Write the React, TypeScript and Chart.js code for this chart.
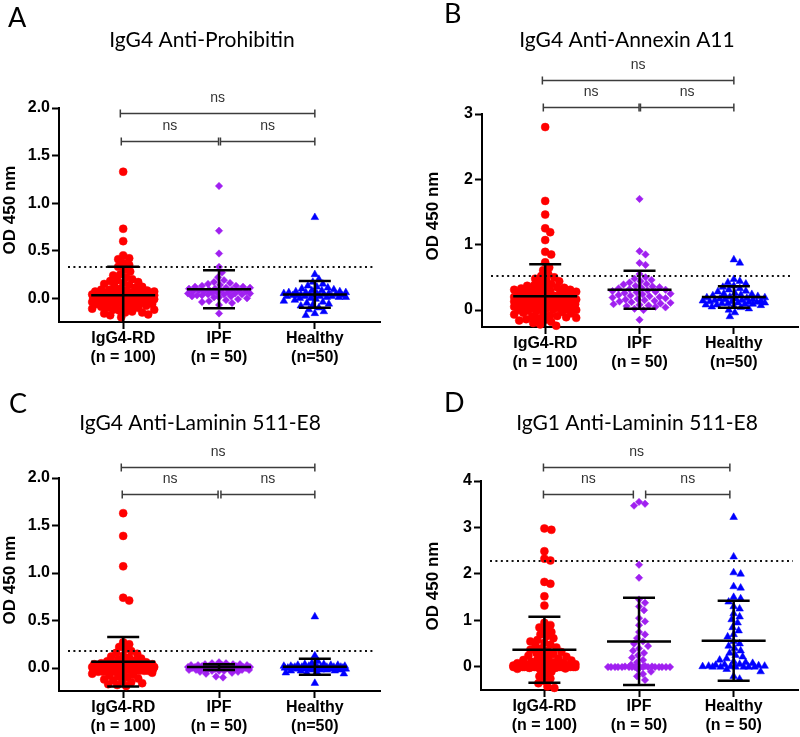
import React, { useEffect, useRef } from 'react';
import { Chart, registerables } from 'chart.js';

Chart.register(...registerables);

// ---------- categories / labels ----------
const groupNames = ['IgG4-RD', 'IPF', 'Healthy'];
const nLabelsABC = ['(n = 100)', '(n = 50)', '(n=50)'];
const nLabelsD = ['(n = 100)', '(n = 50)', '(n = 50)'];
const categoryPositions = [1, 2, 3];

// ---------- Panel A: IgG4 Anti-Prohibitin ----------
const prohibitinIgG4RD = [
  1.33, 0.73, 0.6, 0.45, 0.42, 0.41, 0.37, 0.35, 0.33, 0.3,
  0.28, 0.25, 0.22, 0.2, 0.18, 0.17, 0.15, 0.14, 0.12, 0.11,
  0.1, 0.09, 0.09, 0.08, 0.08, 0.07, 0.07, 0.06, 0.06, 0.06,
  0.05, 0.05, 0.05, 0.04, 0.04, 0.04, 0.04, 0.03, 0.03, 0.03,
  0.03, 0.02, 0.02, 0.02, 0.02, 0.02, 0.01, 0.01, 0.01, 0.01,
  0.01, 0.0, 0.0, 0.0, 0.0, 0.0, 0.0, -0.01, -0.01, -0.01,
  -0.01, -0.02, -0.02, -0.02, -0.03, -0.03, -0.03, -0.04, -0.04, -0.05,
  -0.05, -0.06, -0.06, -0.07, -0.07, -0.08, -0.08, -0.09, -0.1, -0.1,
  -0.11, -0.12, -0.12, -0.13, -0.14, -0.15, -0.16, -0.17, -0.18, -0.2,
  0.13, 0.16, 0.19, 0.24, 0.06, 0.03, -0.01, -0.04, -0.09, -0.15,
];
const prohibitinIPF = [
  1.18, 0.71, 0.47, 0.33, 0.27, 0.22, 0.19, 0.17, 0.16, 0.15,
  0.14, 0.13, 0.13, 0.12, 0.12, 0.11, 0.11, 0.1, 0.1, 0.09,
  0.09, 0.08, 0.08, 0.08, 0.07, 0.07, 0.07, 0.06, 0.06, 0.06,
  0.05, 0.05, 0.05, 0.04, 0.04, 0.04, 0.03, 0.03, 0.02, 0.02,
  0.01, 0.01, 0.0, -0.01, -0.02, -0.03, -0.04, -0.05, -0.07, -0.16,
];
const prohibitinHealthy = [
  0.85, 0.25, 0.2, 0.17, 0.15, 0.13, 0.12, 0.11, 0.1, 0.09,
  0.08, 0.08, 0.07, 0.07, 0.06, 0.06, 0.06, 0.05, 0.05, 0.05,
  0.04, 0.04, 0.04, 0.04, 0.03, 0.03, 0.03, 0.03, 0.02, 0.02,
  0.02, 0.02, 0.01, 0.01, 0.01, 0.0, 0.0, -0.01, -0.02, -0.03,
  -0.04, -0.05, -0.06, -0.07, -0.08, -0.1, -0.12, -0.14, -0.16, -0.18,
];
const prohibitinMean = [0.03, 0.095, 0.04];
const prohibitinSD = [0.3, 0.2, 0.14];
const prohibitinCutoff = 0.33;
const prohibitinTicks = [0, 0.5, 1.0, 1.5, 2.0];

// ---------- Panel B: IgG4 Anti-Annexin A11 ----------
const annexinIgG4RD = [
  2.8, 1.67, 1.46, 1.25, 1.19, 1.07, 0.89, 0.85, 0.73, 0.65,
  0.61, 0.55, 0.52, 0.5, 0.48, 0.46, 0.44, 0.42, 0.4, 0.38,
  0.37, 0.36, 0.35, 0.34, 0.33, 0.32, 0.31, 0.3, 0.29, 0.28,
  0.27, 0.26, 0.25, 0.24, 0.23, 0.22, 0.21, 0.2, 0.2, 0.19,
  0.18, 0.18, 0.17, 0.16, 0.16, 0.15, 0.15, 0.14, 0.14, 0.13,
  0.13, 0.12, 0.12, 0.11, 0.11, 0.1, 0.1, 0.09, 0.09, 0.08,
  0.08, 0.07, 0.07, 0.06, 0.06, 0.05, 0.05, 0.04, 0.04, 0.03,
  0.03, 0.02, 0.02, 0.01, 0.01, 0.0, 0.0, -0.01, -0.02, -0.03,
  -0.04, -0.05, -0.06, -0.07, -0.08, -0.09, -0.1, -0.11, -0.12, -0.13,
  -0.14, -0.15, -0.16, -0.18, -0.2, -0.22, -0.24, 0.27, 0.31, 0.17,
];
const annexinIPF = [
  1.7, 0.9, 0.85, 0.72, 0.69, 0.55, 0.5, 0.48, 0.46, 0.44,
  0.42, 0.4, 0.39, 0.37, 0.36, 0.35, 0.34, 0.33, 0.32, 0.31,
  0.3, 0.29, 0.28, 0.27, 0.26, 0.25, 0.24, 0.23, 0.22, 0.21,
  0.2, 0.19, 0.18, 0.17, 0.16, 0.15, 0.14, 0.13, 0.12, 0.11,
  0.1, 0.09, 0.08, 0.07, 0.06, 0.05, 0.04, 0.02, 0.0, -0.15,
];
const annexinHealthy = [
  0.77, 0.72, 0.47, 0.44, 0.42, 0.4, 0.37, 0.35, 0.33, 0.31,
  0.29, 0.28, 0.26, 0.25, 0.24, 0.23, 0.22, 0.21, 0.2, 0.19,
  0.19, 0.18, 0.17, 0.17, 0.16, 0.16, 0.15, 0.15, 0.14, 0.14,
  0.13, 0.13, 0.12, 0.12, 0.11, 0.11, 0.1, 0.1, 0.09, 0.09,
  0.08, 0.08, 0.07, 0.06, 0.05, 0.04, 0.02, 0.0, -0.04, -0.1,
];
const annexinMean = [0.21, 0.31, 0.2];
const annexinSD = [0.49, 0.29, 0.165];
const annexinCutoff = 0.52;
const annexinTicks = [0, 1, 2, 3];

// ---------- Panel C: IgG4 Anti-Laminin 511-E8 ----------
const lamininG4IgG4RD = [
  1.63, 1.39, 1.07, 0.74, 0.71, 0.27, 0.25, 0.22, 0.2, 0.18,
  0.16, 0.15, 0.13, 0.12, 0.11, 0.1, 0.09, 0.08, 0.07, 0.06,
  0.06, 0.05, 0.05, 0.04, 0.04, 0.04, 0.03, 0.03, 0.03, 0.03,
  0.02, 0.02, 0.02, 0.02, 0.02, 0.01, 0.01, 0.01, 0.01, 0.01,
  0.01, 0.01, 0.0, 0.0, 0.0, 0.0, 0.0, 0.0, 0.0, 0.0,
  0.0, 0.0, 0.0, 0.0, 0.0, 0.0, 0.0, 0.0, 0.0, 0.0,
  0.0, 0.0, 0.0, 0.0, 0.0, -0.01, -0.01, -0.01, -0.01, -0.01,
  -0.01, -0.01, -0.02, -0.02, -0.02, -0.02, -0.02, -0.03, -0.03, -0.03,
  -0.03, -0.04, -0.04, -0.04, -0.05, -0.05, -0.06, -0.07, -0.08, -0.09,
  -0.1, -0.11, -0.12, -0.13, -0.14, -0.15, -0.16, -0.17, -0.18, -0.19,
];
const lamininG4IPF = [
  0.06, 0.05, 0.05, 0.04, 0.04, 0.04, 0.03, 0.03, 0.03, 0.03,
  0.02, 0.02, 0.02, 0.02, 0.02, 0.01, 0.01, 0.01, 0.01, 0.01,
  0.01, 0.0, 0.0, 0.0, 0.0, 0.0, 0.0, 0.0, 0.0, 0.0,
  0.0, 0.0, -0.01, -0.01, -0.01, -0.01, -0.01, -0.02, -0.02, -0.02,
  -0.02, -0.03, -0.03, -0.03, -0.04, -0.04, -0.05, -0.06, -0.09, -0.1,
];
const lamininG4Healthy = [
  0.54, 0.13, 0.07, 0.05, 0.04, 0.04, 0.03, 0.03, 0.03, 0.02,
  0.02, 0.02, 0.02, 0.02, 0.01, 0.01, 0.01, 0.01, 0.01, 0.01,
  0.01, 0.0, 0.0, 0.0, 0.0, 0.0, 0.0, 0.0, 0.0, 0.0,
  0.0, 0.0, 0.0, -0.01, -0.01, -0.01, -0.01, -0.01, -0.02, -0.02,
  -0.02, -0.02, -0.03, -0.03, -0.03, -0.04, -0.05, -0.05, -0.06, -0.16,
];
const lamininG4Mean = [0.066, 0.01, 0.013];
const lamininG4SD = [0.26, 0.03, 0.085];
const lamininG4Cutoff = 0.18;
const lamininG4Ticks = [0, 0.5, 1.0, 1.5, 2.0];

// ---------- Panel D: IgG1 Anti-Laminin 511-E8 ----------
const lamininG1IgG4RD = [
  2.98, 2.95, 2.49, 2.33, 2.29, 1.83, 1.79, 1.52, 1.32, 0.95,
  0.9, 0.85, 0.8, 0.75, 0.7, 0.66, 0.62, 0.58, 0.55, 0.52,
  0.48, 0.45, 0.42, 0.4, 0.37, 0.35, 0.32, 0.3, 0.28, 0.26,
  0.24, 0.22, 0.2, 0.18, 0.16, 0.15, 0.14, 0.12, 0.11, 0.1,
  0.09, 0.08, 0.07, 0.06, 0.05, 0.05, 0.04, 0.04, 0.03, 0.03,
  0.03, 0.02, 0.02, 0.02, 0.02, 0.01, 0.01, 0.01, 0.01, 0.01,
  0.01, 0.0, 0.0, 0.0, 0.0, 0.0, 0.0, 0.0, 0.0, 0.0,
  0.0, 0.0, 0.0, 0.0, 0.0, 0.0, 0.0, 0.0, 0.0, 0.0,
  0.0, 0.0, 0.0, -0.01, -0.01, -0.01, -0.01, -0.02, -0.02, -0.03,
  -0.04, -0.06, -0.1, -0.15, -0.2, -0.25, -0.3, -0.35, -0.42, -0.45,
];
const lamininG1IPF = [
  3.55, 3.51, 3.47, 2.2, 1.92, 1.45, 1.38, 1.3, 1.22, 1.05,
  0.98, 0.9, 0.75, 0.7, 0.62, 0.55, 0.5, 0.45, 0.4, 0.35,
  0.3, 0.25, 0.2, 0.15, 0.1, 0.05, 0.02, 0.01, 0.01, 0.0,
  0.0, 0.0, 0.0, 0.0, 0.0, 0.0, 0.0, 0.0, 0.0, 0.0,
  0.0, 0.0, 0.0, 0.0, 0.0, -0.05, -0.1, -0.15, -0.2, -0.28,
];
const lamininG1Healthy = [
  3.22, 2.37, 2.03, 2.0, 1.73, 1.7, 1.5, 1.47, 1.4, 1.3,
  1.25, 1.15, 1.08, 1.02, 0.95, 0.85, 0.78, 0.7, 0.65, 0.55,
  0.5, 0.45, 0.4, 0.35, 0.3, 0.25, 0.22, 0.18, 0.15, 0.12,
  0.1, 0.08, 0.06, 0.05, 0.04, 0.03, 0.02, 0.02, 0.01, 0.01,
  0.0, 0.0, 0.0, 0.0, 0.0, 0.0, -0.05, -0.1, -0.2, -0.26,
];
const lamininG1Mean = [0.37, 0.55, 0.565];
const lamininG1SD = [0.71, 0.94, 0.86];
const lamininG1Cutoff = 2.28;
const lamininG1Ticks = [0, 1, 2, 3, 4];

// ---------- styles ----------
const groupColors = ['#FF0000', '#A020F0', '#0000FF'];
const groupShapes = ['circle', 'rectRot', 'triangle'];
const groupRadius = [4, 3.7, 4.4];
const TICK_FONT = { family: '"Liberation Sans", Arial, sans-serif', size: 16, weight: 'bold' as const };
const X_MIN = 0.33;
const X_MAX = 3.68;

type Bracket = { x1: number; x2: number; y: number };

type Panel = {
  letter: string;
  title: string;
  series: number[][];
  means: number[];
  sds: number[];
  cutoff: number;
  ticks: number[];
  decimals: number;
  yMin: number;
  yMax: number;
  nLabels: string[];
  brackets: Bracket[];
  box: { x: number; y: number; w: number; h: number };
  area: { left: number; right: number; top: number; bottom: number };
  letterPos: [number, number];
  titlePos: [number, number];
  yTitlePos: [number, number];
};

const panels: Panel[] = [
  {
    letter: 'A', title: 'IgG4 Anti-Prohibitin',
    series: [prohibitinIgG4RD, prohibitinIPF, prohibitinHealthy],
    means: prohibitinMean, sds: prohibitinSD, cutoff: prohibitinCutoff,
    ticks: prohibitinTicks, decimals: 1, yMin: -0.25, yMax: 2.0, nLabels: nLabelsABC,
    brackets: [{ x1: 0.97, x2: 3.0, y: 1.945 }, { x1: 0.98, x2: 1.995, y: 1.65 }, { x1: 2.015, x2: 3.0, y: 1.65 }],
    box: { x: 0, y: 0, w: 400, h: 370 },
    area: { left: 59, right: 380, top: 108, bottom: 322 },
    letterPos: [8, 27], titlePos: [202, 47], yTitlePos: [10, 210],
  },
  {
    letter: 'B', title: 'IgG4 Anti-Annexin A11',
    series: [annexinIgG4RD, annexinIPF, annexinHealthy],
    means: annexinMean, sds: annexinSD, cutoff: annexinCutoff,
    ticks: annexinTicks, decimals: 0, yMin: -0.26, yMax: 3, nLabels: nLabelsABC,
    brackets: [{ x1: 0.97, x2: 3.0, y: 3.52 }, { x1: 0.98, x2: 1.995, y: 3.11 }, { x1: 2.01, x2: 3.0, y: 3.11 }],
    box: { x: 400, y: 0, w: 400, h: 370 },
    area: { left: 82, right: 398, top: 114, bottom: 327 },
    letterPos: [44, 23], titlePos: [227, 47], yTitlePos: [33, 216],
  },
  {
    letter: 'C', title: 'IgG4 Anti-Laminin 511-E8',
    series: [lamininG4IgG4RD, lamininG4IPF, lamininG4Healthy],
    means: lamininG4Mean, sds: lamininG4SD, cutoff: lamininG4Cutoff,
    ticks: lamininG4Ticks, decimals: 1, yMin: -0.242, yMax: 2.0, nLabels: nLabelsABC,
    brackets: [{ x1: 0.98, x2: 3.0, y: 2.116 }, { x1: 0.99, x2: 1.99, y: 1.83 }, { x1: 2.02, x2: 3.0, y: 1.83 }],
    box: { x: 0, y: 370, w: 400, h: 367 },
    area: { left: 59, right: 380, top: 108, bottom: 321 },
    letterPos: [9, 43], titlePos: [200, 60], yTitlePos: [10, 210],
  },
  {
    letter: 'D', title: 'IgG1 Anti-Laminin 511-E8',
    series: [lamininG1IgG4RD, lamininG1IPF, lamininG1Healthy],
    means: lamininG1Mean, sds: lamininG1SD, cutoff: lamininG1Cutoff,
    ticks: lamininG1Ticks, decimals: 0, yMin: -0.495, yMax: 4, nLabels: nLabelsD,
    brackets: [{ x1: 0.99, x2: 2.96, y: 4.3 }, { x1: 0.99, x2: 1.94, y: 3.72 }, { x1: 2.07, x2: 2.96, y: 3.72 }],
    box: { x: 400, y: 370, w: 400, h: 367 },
    area: { left: 81, right: 398, top: 111, bottom: 320 },
    letterPos: [44, 42], titlePos: [237, 60], yTitlePos: [33, 216],
  },
];

// deterministic beeswarm layout (pixel offsets), computed from the values only
function swarmOffsets(values: number[], pxPerY: number, diameter: number, maxHalf: number): number[] {
  const order = values.map((_, i) => i).sort((a, b) => values[b] - values[a]);
  const placed: { x: number; y: number }[] = [];
  const out = new Array(values.length).fill(0);
  for (const i of order) {
    const y = values[i] * pxPerY;
    let best = 0;
    let bestScore = -Infinity;
    for (let k = 0; k <= 2 * maxHalf; k++) {
      const off = (k % 2 === 1 ? 1 : -1) * Math.ceil(k / 2);
      let minD = Infinity;
      for (const p of placed) {
        const d = Math.hypot(p.x - off, p.y - y);
        if (d < minD) minD = d;
      }
      if (minD >= diameter) { best = off; bestScore = Infinity; break; }
      if (minD > bestScore + 0.01) { bestScore = minD; best = off; }
    }
    placed.push({ x: best, y });
    out[i] = best;
  }
  return out;
}

function PanelChart({ panel }: { panel: Panel }) {
  const ref = useRef<HTMLCanvasElement | null>(null);
  useEffect(() => {
    if (!ref.current) return;
    const { area, box } = panel;
    const xAxisH = box.h - area.bottom;
    const pxPerY = (area.bottom - area.top) / (panel.yMax - panel.yMin);
    const pxPerX = (area.right - area.left) / (X_MAX - X_MIN);

    const datasets = panel.series.map((vals, gi) => {
      const offs = swarmOffsets(vals, pxPerY, 6.2, 31);
      return {
        data: vals.map((v, j) => ({ x: categoryPositions[gi] + offs[j] / pxPerX, y: v })),
        pointStyle: groupShapes[gi] as any,
        pointRadius: groupRadius[gi],
        backgroundColor: groupColors[gi],
        borderColor: groupColors[gi],
        pointBorderWidth: 0.5,
        showLine: false,
        clip: false as any,
      };
    });

    const overlay = {
      id: 'overlay' + panel.letter,
      afterDatasetsDraw(chart: any) {
        const ctx = chart.ctx as CanvasRenderingContext2D;
        const xs = chart.scales.x;
        const ys = chart.scales.y;
        const ca = chart.chartArea;
        // cutoff dotted line
        ctx.save();
        ctx.strokeStyle = '#111';
        ctx.lineWidth = 2;
        ctx.setLineDash([2, 3.4]);
        const cy = Math.round(ys.getPixelForValue(panel.cutoff));
        ctx.beginPath();
        ctx.moveTo(ca.left + 9, cy);
        ctx.lineTo(ca.right - 5, cy);
        ctx.stroke();
        ctx.restore();
        // mean +/- SD
        ctx.save();
        ctx.beginPath();
        ctx.rect(ca.left, ca.top - 3, ca.right - ca.left, ca.bottom - ca.top + 3);
        ctx.clip();
        ctx.strokeStyle = '#000';
        ctx.lineWidth = 2.5;
        panel.means.forEach((m, gi) => {
          const x = xs.getPixelForValue(categoryPositions[gi]);
          const ym = ys.getPixelForValue(m);
          const yh = ys.getPixelForValue(m + panel.sds[gi]);
          const yl = ys.getPixelForValue(m - panel.sds[gi]);
          ctx.beginPath();
          ctx.moveTo(x, yh); ctx.lineTo(x, yl);
          ctx.moveTo(x - 32, ym); ctx.lineTo(x + 32, ym);
          ctx.moveTo(x - 16, yh); ctx.lineTo(x + 16, yh);
          ctx.moveTo(x - 16, yl); ctx.lineTo(x + 16, yl);
          ctx.stroke();
        });
        ctx.restore();
      },
      afterDraw(chart: any) {
        const ctx = chart.ctx as CanvasRenderingContext2D;
        const xs = chart.scales.x;
        const ys = chart.scales.y;
        ctx.save();
        // significance brackets
        ctx.strokeStyle = '#3c3c3c';
        ctx.fillStyle = '#333';
        ctx.lineWidth = 1.5;
        ctx.font = '14px "Liberation Sans", Arial, sans-serif';
        ctx.textAlign = 'center';
        ctx.textBaseline = 'middle';
        panel.brackets.forEach((b) => {
          const x1 = xs.getPixelForValue(b.x1);
          const x2 = xs.getPixelForValue(b.x2);
          const y = Math.round(ys.getPixelForValue(b.y)) + 0.5;
          ctx.beginPath();
          ctx.moveTo(x1, y); ctx.lineTo(x2, y);
          ctx.moveTo(x1, y - 4); ctx.lineTo(x1, y + 4);
          ctx.moveTo(x2, y - 4); ctx.lineTo(x2, y + 4);
          ctx.stroke();
          ctx.fillText('ns', (x1 + x2) / 2, y - 15);
        });
        // panel letter
        ctx.fillStyle = '#000';
        ctx.textAlign = 'left';
        ctx.textBaseline = 'alphabetic';
        ctx.font = '27px Lato, "Open Sans", sans-serif';
        ctx.fillText(panel.letter, panel.letterPos[0], panel.letterPos[1]);
        // title
        ctx.textAlign = 'center';
        ctx.font = '21px Lato, "Open Sans", sans-serif';
        ctx.fillText(panel.title, panel.titlePos[0], panel.titlePos[1]);
        // y-axis title
        ctx.translate(panel.yTitlePos[0], panel.yTitlePos[1]);
        ctx.rotate(-Math.PI / 2);
        ctx.textBaseline = 'middle';
        ctx.font = 'bold 17px "Liberation Sans", Arial, sans-serif';
        ctx.fillText('OD 450 nm', 0, 0);
        ctx.restore();
      },
    };

    const chart = new Chart(ref.current, {
      type: 'scatter',
      data: { datasets: datasets as any },
      plugins: [overlay as any],
      options: {
        animation: false,
        responsive: false,
        maintainAspectRatio: false,
        events: [],
        layout: {
          autoPadding: false,
          padding: { left: 0, right: box.w - area.right, top: area.top, bottom: 0 },
        },
        plugins: { legend: { display: false }, tooltip: { enabled: false }, title: { display: false } },
        scales: {
          x: {
            type: 'linear',
            min: X_MIN,
            max: X_MAX,
            afterBuildTicks: (s: any) => { s.ticks = categoryPositions.map((v) => ({ value: v })); },
            afterFit: (s: any) => { s.height = xAxisH; },
            grid: { display: true, drawOnChartArea: false, drawTicks: true, tickLength: 7, tickWidth: 2, tickColor: '#000' },
            border: { display: true, color: '#000', width: 2 },
            ticks: {
              color: '#000',
              font: TICK_FONT,
              padding: 0,
              maxRotation: 0,
              autoSkip: false,
              callback: (v: any) => {
                const i = Math.round(Number(v)) - 1;
                return [groupNames[i], panel.nLabels[i]];
              },
            },
          },
          y: {
            type: 'linear',
            min: panel.yMin,
            max: panel.yMax,
            afterBuildTicks: (s: any) => { s.ticks = panel.ticks.map((v) => ({ value: v })); },
            afterFit: (s: any) => { s.width = area.left; },
            grid: { display: true, drawOnChartArea: false, drawTicks: true, tickLength: 7, tickWidth: 2, tickColor: '#000' },
            border: { display: true, color: '#000', width: 2 },
            ticks: {
              color: '#000',
              font: TICK_FONT,
              padding: 2,
              autoSkip: false,
              callback: (v: any) => Number(v).toFixed(panel.decimals),
            },
          },
        },
      } as any,
    });
    return () => chart.destroy();
  }, [panel]);

  const { box } = panel;
  return (
    <canvas
      ref={ref}
      width={box.w}
      height={box.h}
      style={{ position: 'absolute', left: box.x, top: box.y, width: box.w, height: box.h, display: 'block' }}
    />
  );
}

export default function App() {
  return (
    <div style={{ position: 'fixed', left: 0, top: 0, width: 800, height: 737, background: '#fff', overflow: 'hidden' }}>
      {panels.map((p) => (
        <PanelChart key={p.letter} panel={p} />
      ))}
    </div>
  );
}
